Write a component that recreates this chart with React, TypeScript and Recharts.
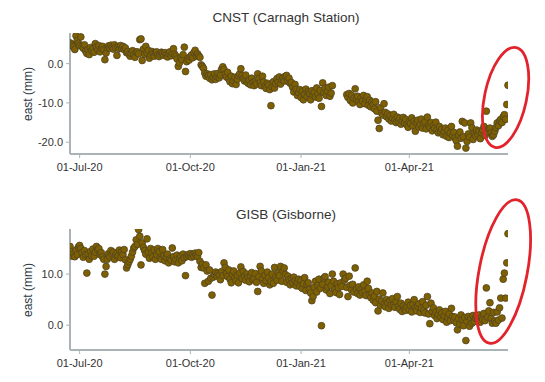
import React from 'react';
import { ScatterChart, Scatter, XAxis, YAxis, ReferenceDot } from 'recharts';

const START_DATE = '2020-06-23';
const END_DATE = '2021-06-22';
const X_TICK_DATES = ['2020-07-01', '2020-10-01', '2021-01-01', '2021-04-01'];
const MONTHS = ['Jan', 'Feb', 'Mar', 'Apr', 'May', 'Jun', 'Jul', 'Aug', 'Sep', 'Oct', 'Nov', 'Dec'];
const CNST_TITLE = 'CNST (Carnagh Station)';
const GISB_TITLE = 'GISB (Gisborne)';
const Y_LABEL = 'east (mm)';
const CNST_Y_TICKS = [-20, -10, 0];
const GISB_Y_TICKS = [0, 10];
const CNST_Y_DOMAIN = [-23, 7.8];
const GISB_Y_DOMAIN = [-4.85, 18.82];

// daily east values (mm), one per day starting at START_DATE, null = no data
const CNST_EAST: (number | null)[] = [
  5.3, 5.0, 4.6, 4.2, 3.6, 7.1, 5.9, 5.2, 4.6,
  6.8, 4.4, 3.9, 4.8, 3.2, 2.6, 3.6, 2.3, 4.1, 3.3,
  3.8, 2.9, 5.1, 4.2, 3.5, 4.6, 3.0, 3.9, 4.4, 3.6,
  1.0, 2.7, 4.0, 4.5, 3.9, 4.7, 4.2, 3.7, 4.8, 4.1,
  2.1, 4.3, 3.8, 4.6, 3.9, 4.4, 3.6, 4.0, 2.8, 3.1,
  2.4, 1.9, 2.6, 3.3, 2.2, 1.6, 2.9, 3.0, 2.5, 6.1,
  6.3, 0.8, 3.7, 2.4, 4.4, 2.7, 3.4, 1.4, 2.2, 3.1,
  2.6, 1.9, 2.8, 3.0, 2.2, 1.8, 2.4, 2.9, 2.6, 2.1,
  2.8, 2.3, 1.7, 2.5, 3.0, 2.0, 2.6, 3.8, 2.4, 1.9,
  1.2, -0.7, 0.2, 1.6, 1.0, 2.3, 4.2, -2.0, 0.5, 1.3,
  0.9, 1.8, 2.2, 1.5, 2.8, 3.4, 1.9, 2.5, 2.0, 1.6,
  -0.3, -0.7, -1.2, -2.4, -3.2, -2.6, -3.0, -3.7, -2.8, -4.1,
  -3.5, -2.6, -4.0, -3.3, -2.5, -3.6, -2.9, -1.4, -0.8, -1.5,
  -2.7, -3.4, -2.2, -3.9, -4.6, -3.2, -5.1, -4.3, -3.5, -5.3,
  -4.0, -3.1, -2.6, -1.3, -3.0, -3.8, -4.4, -2.9, -4.6, -5.0,
  -4.2, -5.4, -3.7, -4.8, -5.6, -4.5, -5.2, -2.6, -3.8, -4.9,
  -5.6, -3.2, -4.7, -5.8, -6.3, -5.0, -5.5, -6.6, -10.7, -5.9,
  -4.6, -6.2, -5.1, -3.8, -4.7, -3.4, -5.2, -4.1, -3.6, -4.4,
  -3.2, -3.0, -4.5, -3.7, -5.0, -4.8, -6.0, -7.2, -5.3, -6.5,
  -8.1, -7.4, -6.6, -8.6, -7.0, -9.2, -7.8, -6.5, -8.4, -7.1,
  -7.6, -9.2, -6.9, -8.0, -7.3, -8.5, -6.2, -7.7, -8.8, -6.8,
  -10.9, -4.9, -7.4, -6.3, -8.1, -7.0, -6.0, -8.3, -7.5, -5.6,
  null, null, null, null, null, null, null, null, null, null,
  null, -7.9, -8.6, -7.6, -9.4, -8.1, -10.0, -8.8, -6.4, -9.1,
  -8.3, -9.7, -10.4, -8.7, -9.5, -8.1, -10.2, -9.0, -8.4, -10.6,
  -9.3, -11.0, -9.8, -10.4, -11.5, -9.7, -12.1, -14.4, -16.5, -11.2,
  -12.6, -13.1, -10.2, -12.4, -13.5, -12.8, -14.1, -13.2, -14.6, -13.8,
  -12.9, -14.3, -15.0, -13.6, -14.8, -13.9, -15.4, -14.5, -13.7, -15.1,
  -14.2, -15.6, -16.2, -14.7, -15.3, -13.8, -15.9, -14.6, -17.2, -15.0,
  -14.4, -16.1, -15.5, -14.1, -16.4, -15.2, -14.8, -16.6, -13.6, -15.7,
  -16.2, -15.0, -17.1, -15.8, -16.5, -14.9, -16.9, -17.6, -16.0, -17.4,
  -16.7, -18.1, -17.3, -16.4, -18.5, -17.0, -18.8, -17.7, -16.0, -18.3,
  -17.5, -18.9, -19.6, -21.0, -18.2, -17.4, -19.0, -14.7, -18.6, -15.1,
  -21.5, -19.8, -17.9, -18.7, -15.1, -16.3, -19.3, -17.8, -18.4, -16.9,
  -18.0, -17.2, -19.1, -17.6, -16.9, -16.0, -18.3, -12.1, -17.4, -16.6,
  -16.4, -17.6, -18.5, -18.1, -17.2, -16.3, -15.1, -15.8, -14.6, -14.2,
  -15.0, -13.5, -13.0, -14.2, -10.4, -5.5,
];

const GISB_EAST: (number | null)[] = [
  15.4, 14.4, 13.5, 14.0, 13.4, 14.7, 13.8, 15.3, 15.6,
  15.0, 14.2, 13.3, 14.6, 13.8, 10.2, 13.9, 12.9, 14.4, 13.6,
  14.9, 13.5, 14.3, 15.4, 14.8, 15.0, 13.8, 14.2, 13.4, 12.9,
  10.0, 11.5, 12.9, 14.0, 13.4, 14.6, 13.9, 14.3, 12.9, 13.7,
  14.1, 13.5, 14.7, 13.2, 14.4, 13.8, 14.8, 12.8, 11.2, 11.8,
  12.4, 12.9, 13.5, 14.3, 15.1, 15.4, 16.7, 15.8, 18.7, 17.4,
  11.8, 16.1, 15.2, 14.6, 13.9, 16.9, 14.3, 13.1, 15.0, 14.1,
  13.4, 14.7, 12.9, 13.8, 15.0, 14.4, 13.2, 12.9, 14.8, 13.6,
  12.6, 13.3, 13.9, 12.2, 13.0, 12.7, 15.1, 13.4, 12.4, 12.9,
  13.7, 12.2, 13.1, 13.5, 12.6, 13.9, 13.2, 9.7, 13.4, 13.8,
  13.6, 14.0, 13.3, 13.9, 13.5, 14.1, 13.7, 13.4, 14.2, 12.5,
  11.3, 11.9, 11.2, 8.2, 11.8, 10.6, 8.6, 10.8, 9.2, 5.9,
  9.4, 9.9, 10.4, 9.6, 10.2, 9.8, 8.9, 10.5, 9.7, 12.2,
  11.3, 10.1, 9.5, 10.8, 9.0, 8.3, 9.9, 10.6, 9.3, 8.7,
  9.8, 8.3, 10.2, 11.4, 9.1, 10.5, 9.6, 8.8, 10.0, 9.4,
  8.5, 9.7, 10.3, 8.9, 9.2, 10.1, 8.4, 6.6, 9.5, 11.5,
  10.6, 9.0, 8.2, 9.8, 8.7, 10.4, 9.3, 7.9, 8.5, 10.0,
  8.2, 11.3, 9.4, 8.8, 10.2, 9.7, 11.5, 8.6, 10.6, 11.2,
  9.9, 8.4, 9.6, 8.9, 7.9, 9.1, 8.3, 9.4, 8.7, 7.7,
  8.4, 9.0, 7.6, 8.8, 7.2, 8.1, 9.3, 6.8, 7.9, 8.3,
  7.0, 6.3, 4.8, 5.6, 7.4, 8.6, 6.5, 7.8, 9.0, 7.2,
  -0.1, 8.0, 9.2, 9.5, 6.9, 7.5, 8.4, 6.2, 7.7, 10.0,
  8.6, 7.0, 6.4, 8.1, 7.3, 6.0, 8.3, 7.6, 10.0, 8.8,
  9.2, 7.4, 5.6, 9.6, 7.8, 6.9, 8.0, 6.5, 11.2, 7.1,
  6.2, 7.5, 5.9, 7.0, 6.4, 7.9, 6.6, 5.8, 8.6, 7.2,
  6.0, 5.4, 6.3, 4.9, 5.7, 4.4, 6.6, 2.8, 5.1, 3.9,
  4.7, 6.3, 4.1, 3.6, 5.0, 4.4, 3.3, 4.8, 3.9, 5.2,
  4.0, 3.5, 4.6, 5.6, 3.7, 3.1, 4.3, 2.7, 3.8, 3.2,
  2.9, 3.6, 4.5, 3.0, 3.9, 2.6, 4.1, 5.0, 3.4, 2.8,
  3.7, 4.2, 2.5, 3.3, 4.6, 3.0, 2.4, 3.9, 5.6, 2.2,
  0.3, 4.3, 2.7, 3.4, 1.9, 2.6, 1.3, 2.1, 3.0, 1.6,
  2.4, 1.1, 1.8, 2.7, 0.6, 1.5, 2.2, 0.9, 3.3, 1.7,
  1.0, 1.6, 0.5, -0.9, 1.3, 0.2, 2.0, 1.1, -0.1, 1.5,
  -3.0, 0.8, 1.7, -0.2, 1.2, 0.4, 1.9, 0.7, 1.4, 1.8,
  1.2, 2.0, 0.6, 1.5, 1.1, 2.3, 0.9, 7.3, 1.6, 2.8,
  4.4, 1.3, 0.4, 2.5, 0.8, 0.4, 2.6, 1.0, 3.4, 5.3,
  1.4, 9.0, 10.2, 5.3, 12.2, 17.9,
];

// highlighted (circled) region centres
const CNST_HIGHLIGHT = { date: '2021-06-20', value: -8.6 };
const GISB_HIGHLIGHT = { date: '2021-06-18', value: 10.5 };

const DAY_MS = 86400000;
const toTs = (s: string) => Date.parse(s + 'T00:00:00Z');
const T0 = toTs(START_DATE);
const T1 = toTs(END_DATE);
const X_TICKS = X_TICK_DATES.map(toTs);

const buildSeries = (vals: (number | null)[]) =>
  vals
    .map((v, i) => (v == null ? null : { t: T0 + i * DAY_MS, v }))
    .filter((p) => p !== null) as { t: number; v: number }[];

const CNST_DATA = buildSeries(CNST_EAST);
const GISB_DATA = buildSeries(GISB_EAST);

const fmtDate = (ts: number) => {
  const d = new Date(ts);
  const dd = String(d.getUTCDate()).padStart(2, '0');
  const yy = String(d.getUTCFullYear() % 100).padStart(2, '0');
  return `${dd}-${MONTHS[d.getUTCMonth()]}-${yy}`;
};

const FONT = '"Liberation Sans", Arial, Helvetica, sans-serif';
const AXIS_COLOR = '#aab4b7';
const TEXT_COLOR = '#333333';
const POINT_FILL = '#7f6000';
const POINT_STROKE = '#4f4424';

const Dot = (p: any) => {
  if (p.cx == null || p.cy == null) return <g />;
  return <circle cx={p.cx} cy={p.cy} r={3.4} fill={POINT_FILL} stroke={POINT_STROKE} strokeWidth={0.8} />;
};

const makeEllipse = (rx: number, ry: number, rot: number) => (p: any) => {
  if (p.cx == null || p.cy == null) return <g />;
  return (
    <ellipse
      cx={p.cx}
      cy={p.cy}
      rx={rx}
      ry={ry}
      fill="none"
      stroke="#e3232c"
      strokeWidth={2.8}
      transform={`rotate(${rot} ${p.cx} ${p.cy})`}
    />
  );
};

type PanelProps = {
  top: number;
  height: number;
  marginTop: number;
  xAxisHeight: number;
  title: string;
  titleTop: number;
  data: { t: number; v: number }[];
  yDomain: number[];
  yTicks: number[];
  highlight: { date: string; value: number };
  ellipse: [number, number, number];
  labelCenterY: number;
};

const Panel = (props: PanelProps) => {
  const { top, height, marginTop, xAxisHeight, title, titleTop, data, yDomain, yTicks, highlight, ellipse, labelCenterY } = props;
  return (
    <div style={{ position: 'absolute', left: 0, top, width: 545, height }}>
      <ScatterChart width={545} height={height} margin={{ top: marginTop, right: 37, bottom: 0, left: 0 }}>
        <XAxis
          type="number"
          dataKey="t"
          domain={[T0, T1]}
          ticks={X_TICKS}
          tickFormatter={fmtDate}
          height={xAxisHeight}
          axisLine={{ stroke: AXIS_COLOR, strokeWidth: 2 }}
          tickLine={{ stroke: AXIS_COLOR }}
          tickSize={4}
          tickMargin={5}
          tick={{ fontSize: 11, fill: TEXT_COLOR, fontFamily: FONT }}
          allowDataOverflow
        />
        <YAxis
          type="number"
          dataKey="v"
          domain={yDomain}
          ticks={yTicks}
          tickFormatter={(v: number) => v.toFixed(1)}
          width={70}
          axisLine={{ stroke: AXIS_COLOR, strokeWidth: 2 }}
          tickLine={{ stroke: AXIS_COLOR }}
          tickSize={4}
          tickMargin={3}
          tick={{ fontSize: 11, fill: TEXT_COLOR, fontFamily: FONT }}
          allowDataOverflow
        />
        <Scatter data={data} shape={Dot} isAnimationActive={false} />
        <ReferenceDot
          x={toTs(highlight.date)}
          y={highlight.value}
          ifOverflow="visible"
          shape={makeEllipse(ellipse[0], ellipse[1], ellipse[2])}
        />
      </ScatterChart>
      <div
        style={{
          position: 'absolute',
          left: 136,
          width: 300,
          top: titleTop,
          textAlign: 'center',
          fontFamily: FONT,
          fontSize: 13.5,
          lineHeight: '16px',
          color: TEXT_COLOR,
          whiteSpace: 'nowrap',
        }}
      >
        {title}
      </div>
      <div
        style={{
          position: 'absolute',
          left: 27.5 - 50,
          width: 100,
          top: labelCenterY - 7,
          height: 14,
          lineHeight: '14px',
          textAlign: 'center',
          fontFamily: FONT,
          fontSize: 12,
          color: '#2c3a44',
          transform: 'rotate(-90deg)',
          whiteSpace: 'nowrap',
        }}
      >
        {Y_LABEL}
      </div>
    </div>
  );
};

export default function App() {
  return (
    <div style={{ position: 'absolute', left: 0, top: 0, width: 545, height: 382, background: '#fff' }}>
      <Panel
        top={0}
        height={190}
        marginTop={33}
        xAxisHeight={36}
        title={CNST_TITLE}
        titleTop={10}
        data={CNST_DATA}
        yDomain={CNST_Y_DOMAIN}
        yTicks={CNST_Y_TICKS}
        highlight={CNST_HIGHLIGHT}
        ellipse={[21, 51, 12]}
        labelCenterY={93.7}
      />
      <Panel
        top={190}
        height={192}
        marginTop={39}
        xAxisHeight={32}
        title={GISB_TITLE}
        titleTop={16.5}
        data={GISB_DATA}
        yDomain={GISB_Y_DOMAIN}
        yTicks={GISB_Y_TICKS}
        highlight={GISB_HIGHLIGHT}
        ellipse={[24, 73, 11]}
        labelCenterY={99.7}
      />
    </div>
  );
}
